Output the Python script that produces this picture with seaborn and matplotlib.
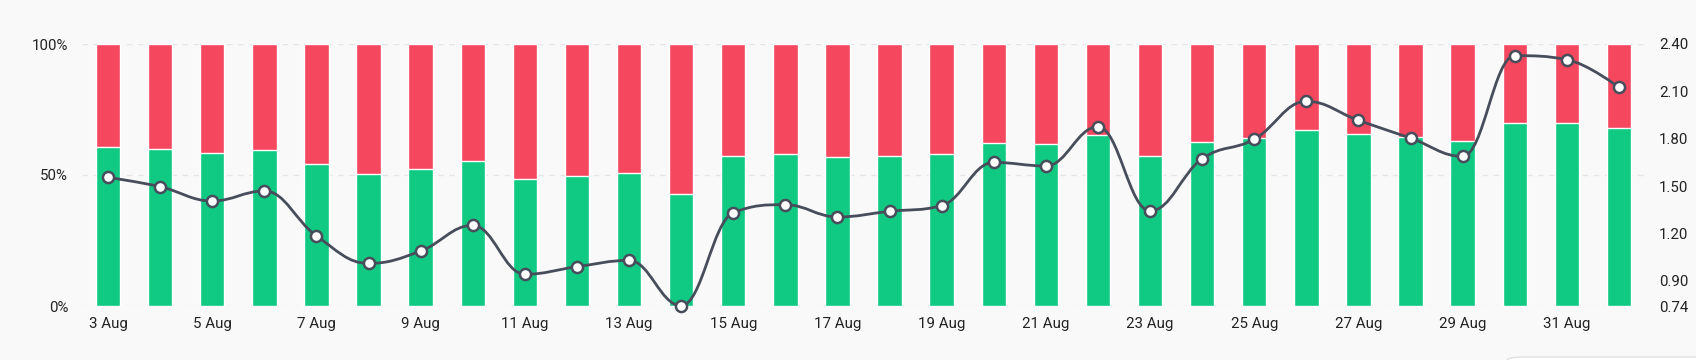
import matplotlib
matplotlib.use("Agg")
import matplotlib.pyplot as plt
from matplotlib.path import Path
from matplotlib.patches import PathPatch, FancyBboxPatch
import seaborn as sns
import pandas as pd

# daily data, 3 Aug .. 1 Sep
days = ["3 Aug", "4 Aug", "5 Aug", "6 Aug", "7 Aug", "8 Aug", "9 Aug", "10 Aug",
        "11 Aug", "12 Aug", "13 Aug", "14 Aug", "15 Aug", "16 Aug", "17 Aug", "18 Aug",
        "19 Aug", "20 Aug", "21 Aug", "22 Aug", "23 Aug", "24 Aug", "25 Aug", "26 Aug",
        "27 Aug", "28 Aug", "29 Aug", "30 Aug", "31 Aug", "1 Sep"]
green_pct = [60.8, 59.9, 58.4, 59.4, 54.2, 50.3, 52.2, 55.5,
             48.3, 49.7, 50.6, 42.6, 57.1, 57.9, 56.7, 57.3,
             57.9, 62.2, 62.0, 65.1, 57.4, 62.5, 64.2, 67.0,
             65.8, 64.4, 62.8, 69.8, 69.7, 68.1]
ratio = [1.555, 1.496, 1.405, 1.469, 1.184, 1.010, 1.088, 1.251,
         0.941, 0.989, 1.029, 0.742, 1.331, 1.382, 1.304, 1.340,
         1.376, 1.650, 1.627, 1.876, 1.342, 1.673, 1.796, 2.037,
         1.916, 1.804, 1.688, 2.326, 2.301, 2.125]
right_ticks = [0.74, 0.90, 1.20, 1.50, 1.80, 2.10, 2.40]

GREEN = "#10c982"
RED = "#f5475e"
LINE = "#474d5a"
BG = "#f9f9f9"


def spline_path(xs, ys):
    # highcharts-like spline: cubic bezier through every point
    sm = 1.5
    den = sm + 1
    n = len(xs)
    verts = [(xs[0], ys[0])]
    codes = [Path.MOVETO]
    prev_right = (xs[0], ys[0])
    for i in range(1, n):
        x, y = xs[i], ys[i]
        if i < n - 1:
            lx, ly = xs[i - 1], ys[i - 1]
            nx, ny = xs[i + 1], ys[i + 1]
            lcx, lcy = (sm * x + lx) / den, (sm * y + ly) / den
            rcx, rcy = (sm * x + nx) / den, (sm * y + ny) / den
            corr = ((rcy - lcy) * (rcx - x)) / (rcx - lcx) + y - rcy
            lcy += corr
            rcy += corr
            if lcy > ly and lcy > y:
                lcy = max(ly, y); rcy = 2 * y - lcy
            elif lcy < ly and lcy < y:
                lcy = min(ly, y); rcy = 2 * y - lcy
            if rcy > ny and rcy > y:
                rcy = max(ny, y); lcy = 2 * y - rcy
            elif rcy < ny and rcy < y:
                rcy = min(ny, y); lcy = 2 * y - rcy
            left, right = (lcx, lcy), (rcx, rcy)
        else:
            left, right = (x, y), None
        verts += [prev_right, left, (x, y)]
        codes += [Path.CURVE4] * 3
        prev_right = right
    return Path(verts, codes)


df = pd.DataFrame({"day": days, "green": green_pct, "ratio": ratio})
df["total"] = 100.0

sns.set_theme(style="white")
plt.rcParams["font.family"] = ["Roboto", "DejaVu Sans"]

fig = plt.figure(figsize=(16.96, 3.6), dpi=100, facecolor=BG)
ax = fig.add_axes([82 / 1696, 54 / 360, (1645 - 82) / 1696, 262 / 360])
ax.set_facecolor(BG)

sns.barplot(data=df, x="day", y="total", color=RED, saturation=1, width=0.47, ax=ax)
sns.barplot(data=df, x="day", y="green", color=GREEN, saturation=1, width=0.47, ax=ax)

ax.set_xlim(-0.5, len(days) - 0.5)
ax.set_ylim(0, 100)
ax.set_yticks([0, 50, 100])
ax.set_yticklabels(["0%", "50%", "100%"])
ax.set_xticks(range(0, len(days), 2))
ax.set_xticklabels(days[::2])
for y in [0, 50, 100]:
    ax.axhline(y, color="#e6e6e6", lw=1, ls=(0, (4, 4)), zorder=0)
ax.set_xlabel("")
ax.set_ylabel("")
ax.tick_params(length=0, labelsize=10.8, colors="#222222")
ax.tick_params(axis="y", pad=10)
ax.tick_params(axis="x", pad=8)
for s in ax.spines.values():
    s.set_visible(False)

ax2 = ax.twinx()
ax2.set_ylim(0.74, 2.40)
ax2.set_yticks(right_ticks)
ax2.set_yticklabels([f"{v:.2f}" for v in right_ticks])
ax2.tick_params(length=0, labelsize=10.8, colors="#222222", pad=10)
for s in ax2.spines.values():
    s.set_visible(False)

xs = list(range(len(days)))
ax2.add_patch(PathPatch(spline_path(xs, ratio), facecolor="none", edgecolor=LINE,
                        lw=2, clip_on=False, zorder=3))
sns.scatterplot(x=xs, y=ratio, ax=ax2, color="white", edgecolor=LINE, linewidth=1.8,
                s=64, zorder=4, clip_on=False, legend=False)
ax2.set_xlim(-0.5, len(days) - 0.5)

# partially visible panel at the bottom edge
fig.patches.append(FancyBboxPatch((1507 / 1696, -0.1), 0.2, 0.1 + 3 / 360,
                                  boxstyle="round,pad=0,rounding_size=0.01",
                                  transform=fig.transFigure, facecolor="white",
                                  edgecolor="#e2e2e2", lw=1))

fig.savefig("out.png", dpi=100, facecolor=BG)
